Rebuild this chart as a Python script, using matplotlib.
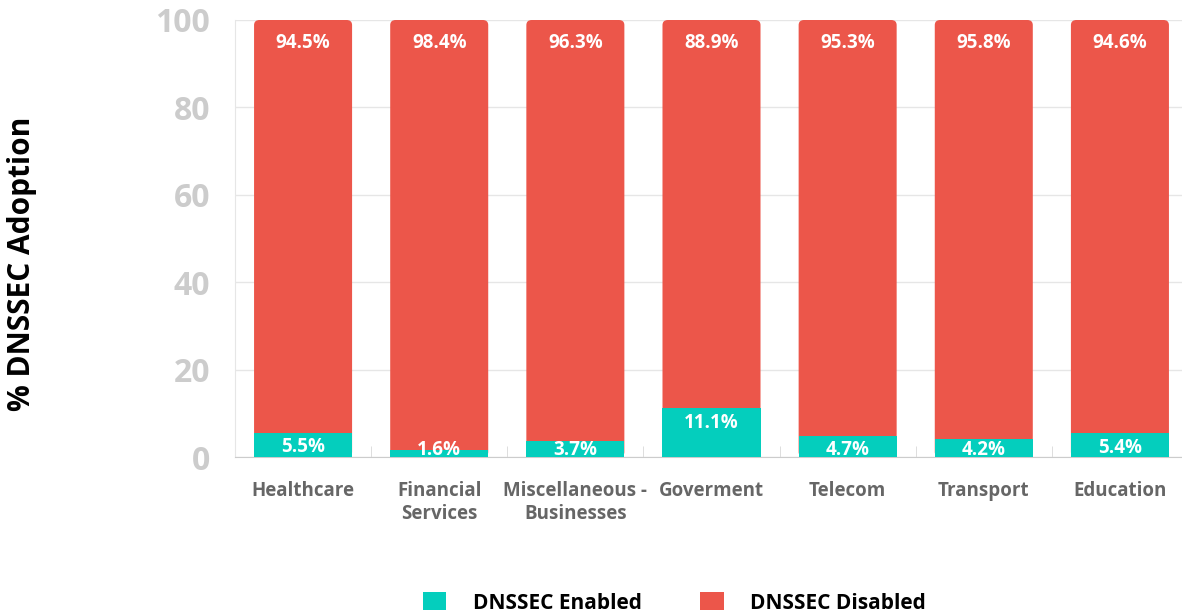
import matplotlib
matplotlib.use('Agg')
import matplotlib.pyplot as plt
from matplotlib.patches import FancyBboxPatch
import numpy as np

plt.rcParams['font.family'] = ['Open Sans', 'DejaVu Sans']

sectors = ['Healthcare', 'Financial\nServices', 'Miscellaneous -\nBusinesses',
           'Goverment', 'Telecom', 'Transport', 'Education']
enabled = [5.5, 1.6, 3.7, 11.1, 4.7, 4.2, 5.4]
disabled = [94.5, 98.4, 96.3, 88.9, 95.3, 95.8, 94.6]
yticks = [0, 20, 40, 60, 80, 100]

teal = '#04CEBD'
red = '#EC564A'

fig = plt.figure(figsize=(11.82, 6.12), dpi=100)
ax = fig.add_axes([235 / 1182, 1 - 457 / 612, 953 / 1182, 437 / 612])

x = np.arange(len(sectors))
w = 0.72

# disabled share sits on top of the enabled share; tops get rounded corners
red_bars = ax.bar(x, disabled, w, bottom=enabled, color=red, zorder=2)
for r in red_bars:
    r.set_visible(False)
    top = r.get_y() + r.get_height()
    ax.add_patch(FancyBboxPatch((r.get_x(), 0), r.get_width(), top,
                                boxstyle='round,pad=0,rounding_size=0.04',
                                mutation_aspect=29, fc=red, ec='none', zorder=2))
ax.bar(x, enabled, w, color=teal, zorder=3)

for i in range(len(sectors)):
    ax.text(x[i], enabled[i] + disabled[i] - 3.0, f'{disabled[i]}%', ha='center', va='top',
            color='white', fontsize=13.5, fontweight='bold', zorder=4)
    ax.text(x[i], max(enabled[i] - 1.0, 4.0), f'{enabled[i]}%', ha='center', va='top',
            color='white', fontsize=13.5, fontweight='bold', zorder=4, clip_on=True)

ax.set_xlim(-0.5, len(sectors) - 0.5)
ax.set_ylim(0, 100)
ax.set_yticks(yticks)
ax.set_yticklabels([str(v) for v in yticks], fontsize=23, fontweight='bold', color='#cccccc')
ax.tick_params(axis='y', length=0, pad=18)
ax.yaxis.grid(True, color='#e6e6e6', lw=1, zorder=0)
ax.set_axisbelow(True)

ax.set_xticks(x)
ax.set_xticklabels(sectors, fontsize=13.5, fontweight='bold', color='#666666', linespacing=1.25)
ax.tick_params(axis='x', length=0, pad=17)
ax.set_xticks(x[:-1] + 0.5, minor=True)
ax.tick_params(axis='x', which='minor', direction='in', length=8, color='#d8d8d8')

for s in ['top', 'right']:
    ax.spines[s].set_visible(False)
ax.spines['left'].set_color('#e6e6e6')
ax.spines['bottom'].set_color('#cccccc')

fig.text(22 / 1182, 1 - 264 / 612, '% DNSSEC Adoption', rotation=90, ha='center', va='center',
         fontsize=21.5, fontweight='bold', color='black')

h1 = plt.Rectangle((0, 0), 1, 1, fc=teal)
h2 = plt.Rectangle((0, 0), 1, 1, fc=red)
fig.legend([h1, h2], ['DNSSEC Enabled', 'DNSSEC Disabled'], loc='center',
           bbox_to_anchor=(674 / 1182, 1 - 603 / 612), ncol=2, frameon=False,
           prop={'size': 15, 'weight': 'bold'}, handlelength=1.15, handleheight=0.95,
           handletextpad=1.25, columnspacing=2.8)

fig.savefig('out.png', dpi=100)
